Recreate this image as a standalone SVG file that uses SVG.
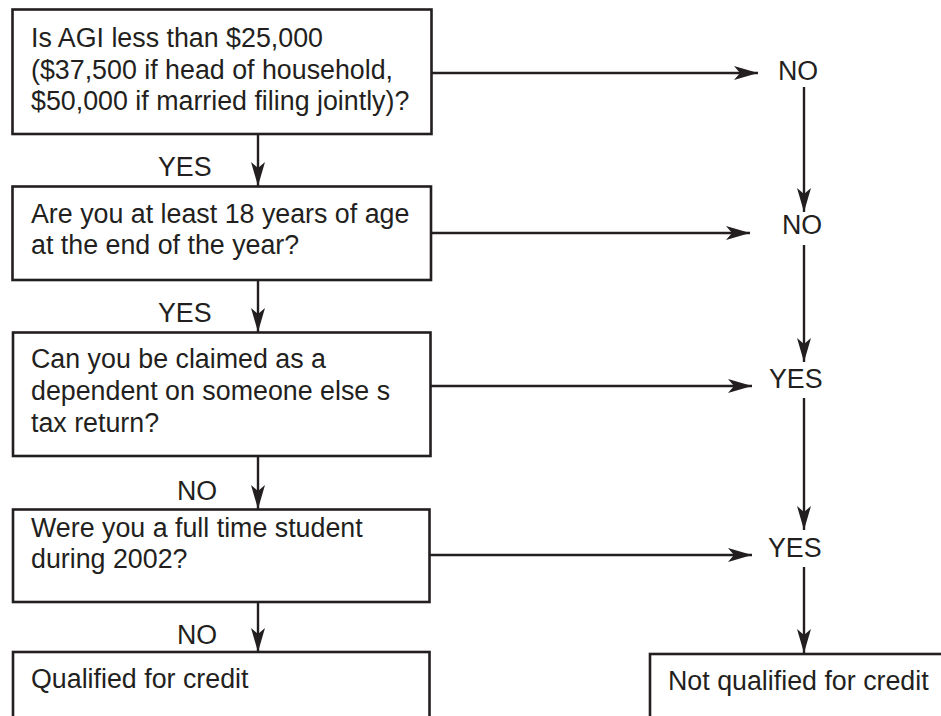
<svg xmlns="http://www.w3.org/2000/svg" width="941" height="716" viewBox="0 0 941 716">
  <style>
    .box { fill: #ffffff; stroke: #231f20; stroke-width: 2.6; }
    .txt { font-family: "Liberation Sans", Arial, sans-serif; font-size: 26.8px; fill: #231f20; }
    .edge { fill: none; stroke: #231f20; stroke-width: 2.4; marker-end: url(#arrow); }
  </style>
  <defs>
    <marker id="arrow" markerUnits="userSpaceOnUse" markerWidth="28" markerHeight="18" viewBox="-26 -9 28 18" refX="0" refY="0" orient="auto">
      <path d="M0,0 L-24,-7 L-18,0 L-24,7 Z" fill="#231f20"/>
    </marker>
  </defs>
  <rect width="941" height="716" fill="#ffffff"/>

  <g id="connectors">
    <!-- main column -->
    <line class="edge" x1="258" y1="134" x2="258" y2="186"/>
    <line class="edge" x1="258" y1="280" x2="258" y2="332"/>
    <line class="edge" x1="258" y1="456" x2="258" y2="509"/>
    <line class="edge" x1="258" y1="602" x2="258" y2="652"/>
    <!-- branches to the right -->
    <line class="edge" x1="432" y1="73" x2="758" y2="73"/>
    <line class="edge" x1="431" y1="233" x2="750" y2="233"/>
    <line class="edge" x1="430" y1="386" x2="752" y2="386"/>
    <line class="edge" x1="429" y1="555" x2="752" y2="555"/>
    <!-- right column -->
    <line class="edge" x1="804" y1="87" x2="804" y2="212"/>
    <line class="edge" x1="804" y1="245" x2="804" y2="362"/>
    <line class="edge" x1="804" y1="398" x2="804" y2="530"/>
    <line class="edge" x1="804" y1="567" x2="804" y2="653"/>
    <!-- edge labels -->
    <text class="txt" x="158" y="176">YES</text>
    <text class="txt" x="158" y="322">YES</text>
    <text class="txt" x="177" y="500">NO</text>
    <text class="txt" x="177" y="644">NO</text>
    <text class="txt" x="778" y="80">NO</text>
    <text class="txt" x="782" y="234">NO</text>
    <text class="txt" x="769" y="388">YES</text>
    <text class="txt" x="768" y="557">YES</text>
  </g>

  <g id="q-agi">
    <rect class="box" x="12.5" y="9.5" width="419" height="124.5"/>
    <text class="txt" x="31" y="47">Is AGI less than $25,000</text>
    <text class="txt" x="31" y="79">($37,500 if head of household,</text>
    <text class="txt" x="31" y="110">$50,000 if married filing jointly)?</text>
  </g>

  <g id="q-age">
    <rect class="box" x="12.5" y="186.5" width="418.5" height="93.5"/>
    <text class="txt" x="31" y="223">Are you at least 18 years of age</text>
    <text class="txt" x="31" y="254">at the end of the year?</text>
  </g>

  <g id="q-dependent">
    <rect class="box" x="13" y="332.5" width="417.5" height="123.5"/>
    <text class="txt" x="31" y="368">Can you be claimed as a</text>
    <text class="txt" x="31" y="400">dependent on someone else s</text>
    <text class="txt" x="31" y="432">tax return?</text>
  </g>

  <g id="q-student">
    <rect class="box" x="13" y="509.5" width="416.5" height="92.5"/>
    <text class="txt" x="31" y="537">Were you a full time student</text>
    <text class="txt" x="31" y="568">during 2002?</text>
  </g>

  <g id="qualified">
    <rect class="box" x="13" y="652" width="416.5" height="90"/>
    <text class="txt" x="31" y="688">Qualified for credit</text>
  </g>

  <g id="not-qualified">
    <rect class="box" x="650" y="654" width="320" height="90"/>
    <text class="txt" x="668" y="690">Not qualified for credit</text>
  </g>
</svg>
